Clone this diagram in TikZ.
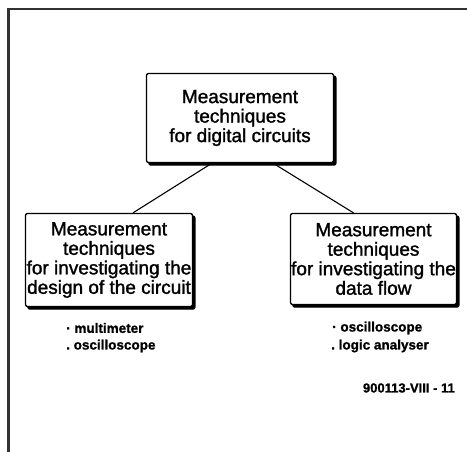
\documentclass[tikz,border=0pt]{standalone}
\usepackage{fontspec}
\setmainfont{Liberation Sans}
\newfontfamily\boxfont{Liberation Sans}
\newfontfamily\itemfont[FakeBold=1.2]{Liberation Sans Bold}
\usetikzlibrary{shadows}
\tikzstyle{boxes}=[%
	every node/.style={inner sep=0},
	box/.style={
		rectangle, draw=black, fill=white, line width=1.3pt, rounded corners=2pt,
		align=center, font=\boxfont\addfontfeatures{FakeBold=1.4}\fontsize{19}{19.5}\selectfont,
		copy shadow={shadow xshift=2.4pt, shadow yshift=-2.6pt, fill=black, draw=black}
	},
	item/.style={anchor=west, font=\itemfont\fontsize{13.5}{14}\selectfont}%
]

\begin{document}
\begin{tikzpicture}[x=1pt, y=-1pt, boxes]
	\useasboundingbox (0,0) rectangle (467,452);
	\draw[line width=2.5pt, draw=black!80] (467,9) -- (8.5,9) -- (8.5,452);

	\node[box, minimum width=187pt, minimum height=89pt] (top) at (240,118) {Measurement\\techniques\\for digital circuits};
	\node[box, minimum width=167pt, minimum height=93pt] (lft) at (109,260) {Measurement\\techniques\\for investigating the\\design of the circuit};
	\node[box, minimum width=166pt, minimum height=91pt] (rgt) at (373.5,259) {Measurement\\techniques\\for investigating the\\data flow};

	\draw[line width=1.1pt] ([xshift=-28pt]top.south) -- ([xshift=24pt]lft.north);
	\draw[line width=1.1pt] ([xshift=33pt]top.south) -- ([xshift=-20pt]rgt.north);

	\node[item] (l1) at (66,328) {\textperiodcentered\ multimeter};
	\node[item] (l2) at (66,346) {.\ oscilloscope};
	\node[item] (r1) at (332,328) {\textperiodcentered\ oscilloscope};
	\node[item] (r2) at (331,346) {.\ logic analyser};

	\node[anchor=east, font=\itemfont\fontsize{13}{14}\selectfont] (fig) at (455,388) {900113-VIII - 11};
\end{tikzpicture}
\end{document}
